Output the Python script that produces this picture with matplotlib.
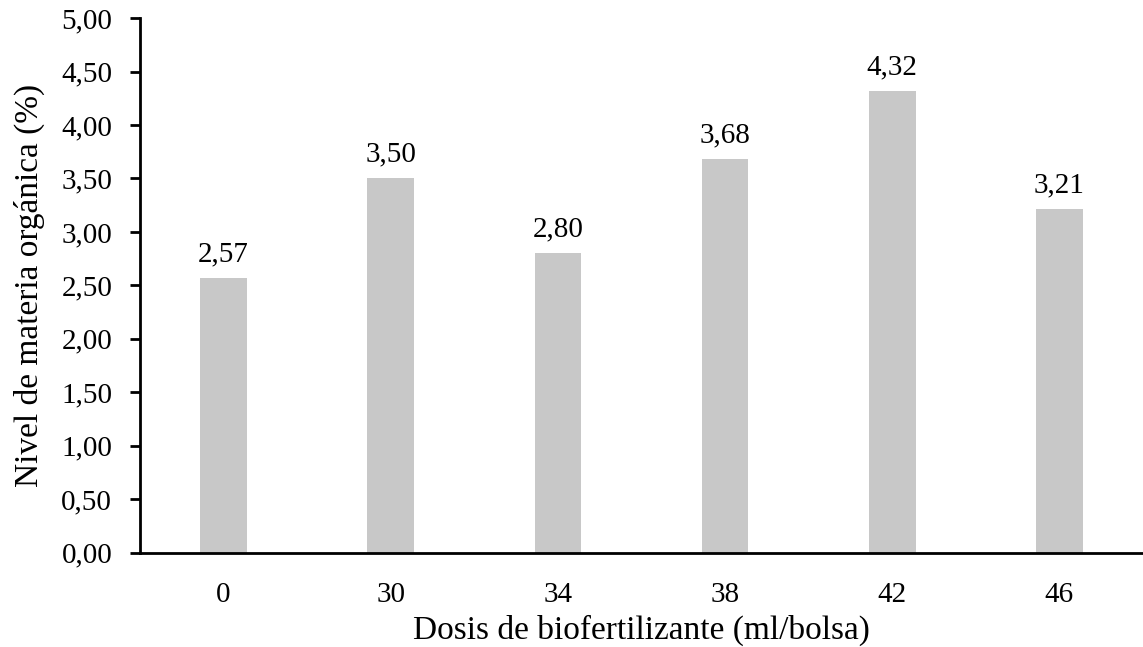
import matplotlib.pyplot as plt
from matplotlib.ticker import FuncFormatter, MultipleLocator

dosis = ["0", "30", "34", "38", "42", "46"]
materia_organica = [2.57, 3.50, 2.80, 3.68, 4.32, 3.21]


def coma(v, _pos=None):
    return f"{v:.2f}".replace(".", ",")


plt.rcParams["font.family"] = ["Liberation Serif", "DejaVu Serif"]

fig = plt.figure(figsize=(11.43, 6.47), dpi=100)
ax = fig.add_axes([0.1225, 0.146, 0.8775, 0.826])

x = range(len(dosis))
ax.bar(x, materia_organica, width=0.28, color="#c8c8c8")
for xi, v in zip(x, materia_organica):
    ax.text(xi, v + 0.1, coma(v), ha="center", va="bottom", fontsize=21)

ax.set_xlim(-0.5, len(dosis) - 0.5)
ax.set_ylim(0, 5)
ax.yaxis.set_major_locator(MultipleLocator(0.5))
ax.yaxis.set_major_formatter(FuncFormatter(coma))
ax.set_xticks(list(x))
ax.set_xticklabels(dosis)

for side in ("top", "right"):
    ax.spines[side].set_visible(False)
for side in ("left", "bottom"):
    ax.spines[side].set_linewidth(2)
ax.tick_params(axis="y", length=7, width=2, labelsize=21, pad=13)
ax.tick_params(axis="x", length=0, labelsize=21, pad=21)

ax.set_xlabel("Dosis de biofertilizante (ml/bolsa)", fontsize=24, labelpad=5)
ax.set_ylabel("Nivel de materia orgánica (%)", fontsize=24, labelpad=12)

fig.savefig("out.png", dpi=100)
